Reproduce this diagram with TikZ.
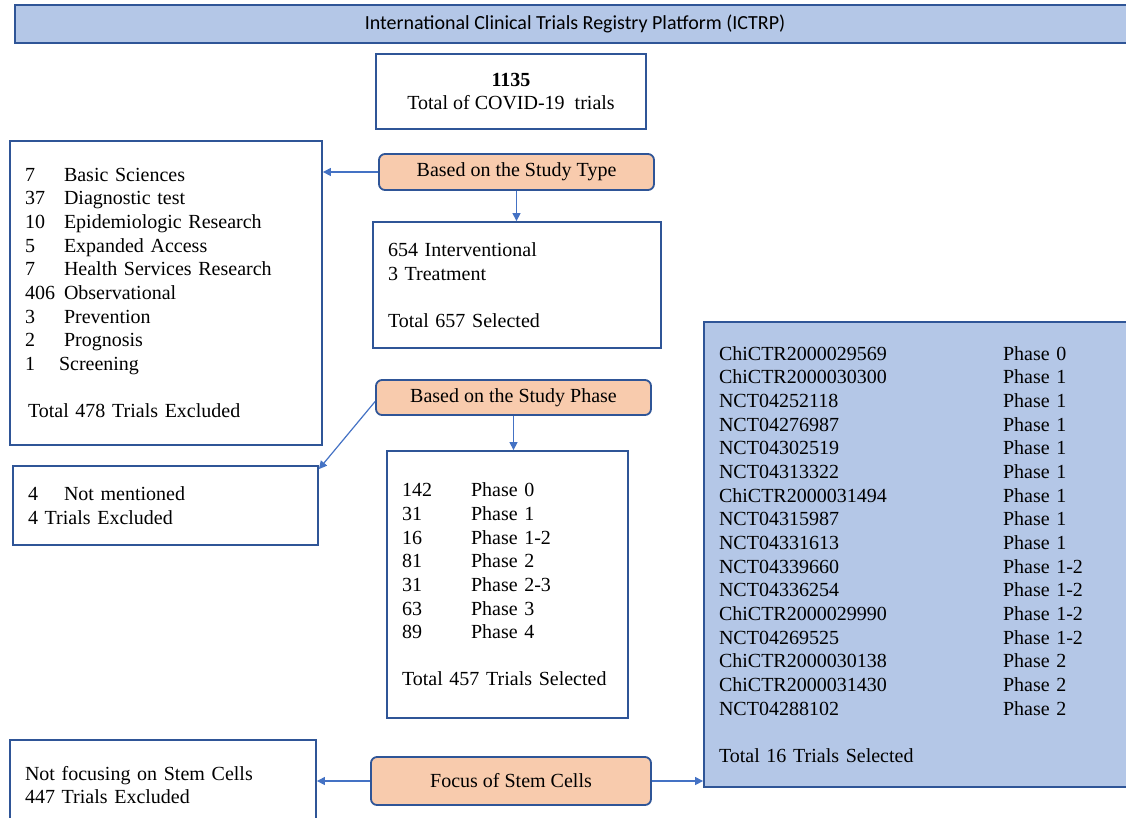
\documentclass[tikz,border=0pt]{standalone}
\usepackage{fontspec}
\setmainfont{Liberation Serif}
\newfontfamily\headfont{Carlito}
\usepackage{tikz}
\usetikzlibrary{positioning}
\usetikzlibrary{arrows.meta}
\usetikzlibrary{calc}

\definecolor{frameblue}{HTML}{2F5597}
\definecolor{lineblue}{HTML}{4472C4}
\definecolor{paleblue}{HTML}{B4C7E7}
\definecolor{paleorange}{HTML}{F8CBAD}

\begin{document}
\begin{tikzpicture}[x=1pt, y=-1pt,
        txt/.style={font=\fontsize{20}{23.65}\selectfont},
        plainbox/.style={txt, draw=frameblue, line width=1.8pt, fill=white, align=left, inner xsep=15pt},
        bluebox/.style={plainbox, fill=paleblue},
        stagebox/.style={txt, draw=frameblue, line width=1.8pt, fill=paleorange, rounded corners=6pt, align=center},
        link/.style={draw=lineblue, line width=1.2pt, -{Triangle[length=8pt,width=8pt]}}]
        \useasboundingbox (0,0) rectangle (1126,817);

        % header
        \node[draw=frameblue, line width=1.8pt, fill=paleblue, minimum width=1120pt, minimum height=38pt,
            font=\headfont\fontsize{20}{23}\selectfont] (Registry) at (575,24)
            {International Clinical Trials Registry Platform (ICTRP)};

        \node[plainbox, align=center, minimum width=270pt, minimum height=75pt] (TotalTrials) at (511,91.5)
            {\textbf{1135}\\Total of COVID-19\ \ trials};

        % study type
        \node[stagebox, minimum width=275pt, minimum height=36pt] (StudyType) at (516.5,172) {Based on the Study Type};
        \node[plainbox, text width=282pt, minimum height=304pt] (TypeExcluded) at (166,293)
            {\makebox[39pt][l]{7}Basic Sciences\\
             \makebox[39pt][l]{37}Diagnostic test\\
             \makebox[39pt][l]{10}Epidemiologic Research\\
             \makebox[39pt][l]{5}Expanded Access\\
             \makebox[39pt][l]{7}Health Services Research\\
             \makebox[39pt][l]{406}Observational\\
             \makebox[39pt][l]{3}Prevention\\
             \makebox[39pt][l]{2}Prognosis\\
             \makebox[34pt][l]{1}Screening\\[23.65pt]
             \hspace*{3pt}Total 478 Trials Excluded};
        \node[plainbox, text width=258pt, minimum height=126pt] (TypeSelected) at (517,285)
            {654 Interventional\\3 Treatment\\[23.65pt]Total 657 Selected};

        % study phase
        \node[stagebox, minimum width=275pt, minimum height=35pt] (StudyPhase) at (513.5,397.5) {Based on the Study Phase};
        \node[plainbox, text width=275pt, minimum height=79pt] (PhaseExcluded) at (165.5,505.5)
            {\makebox[36pt][l]{4}Not mentioned\\4 Trials Excluded};
        \node[plainbox, text width=211pt, minimum height=267pt] (PhaseSelected) at (507.5,584.5)
            {\makebox[69pt][l]{142}Phase 0\\
             \makebox[69pt][l]{31}Phase 1\\
             \makebox[69pt][l]{16}Phase 1-2\\
             \makebox[69pt][l]{81}Phase 2\\
             \makebox[69pt][l]{31}Phase 2-3\\
             \makebox[69pt][l]{63}Phase 3\\
             \makebox[69pt][l]{89}Phase 4\\[23.65pt]
             Total 457 Trials Selected};

        % stem cells
        \node[stagebox, minimum width=280pt, minimum height=48pt] (StemFocus) at (511,781) {Focus of Stem Cells};
        \node[plainbox, text width=276pt, minimum height=90pt] (StemExcluded) at (163,785)
            {Not focusing on Stem Cells\\447 Trials Excluded};
        \node[bluebox, text width=406pt, minimum height=465pt] (StemSelected) at (922,554.5)
            {\makebox[284pt][l]{ChiCTR2000029569}Phase 0\\
             \makebox[284pt][l]{ChiCTR2000030300}Phase 1\\
             \makebox[284pt][l]{NCT04252118}Phase 1\\
             \makebox[284pt][l]{NCT04276987}Phase 1\\
             \makebox[284pt][l]{NCT04302519}Phase 1\\
             \makebox[284pt][l]{NCT04313322}Phase 1\\
             \makebox[284pt][l]{ChiCTR2000031494}Phase 1\\
             \makebox[284pt][l]{NCT04315987}Phase 1\\
             \makebox[284pt][l]{NCT04331613}Phase 1\\
             \makebox[284pt][l]{NCT04339660}Phase 1-2\\
             \makebox[284pt][l]{NCT04336254}Phase 1-2\\
             \makebox[284pt][l]{ChiCTR2000029990}Phase 1-2\\
             \makebox[284pt][l]{NCT04269525}Phase 1-2\\
             \makebox[284pt][l]{ChiCTR2000030138}Phase 2\\
             \makebox[284pt][l]{ChiCTR2000031430}Phase 2\\
             \makebox[284pt][l]{NCT04288102}Phase 2\\[23.65pt]
             Total 16 Trials Selected};

        \draw[link] (StudyType.west) -- (StudyType.west -| TypeExcluded.east);
        \draw[link] (StudyType.south) -- (StudyType.south |- TypeSelected.north);
        \draw[link] ([yshift=-4pt]StudyPhase.west) -- ([yshift=-4pt]PhaseExcluded.north east);
        \draw[link] (StudyPhase.south) -- (StudyPhase.south |- PhaseSelected.north);
        \draw[link] (StemFocus.west) -- (StemFocus.west -| StemExcluded.east);
        \draw[link] (StemFocus.east) -- (StemFocus.east -| StemSelected.west);
\end{tikzpicture}
\end{document}
